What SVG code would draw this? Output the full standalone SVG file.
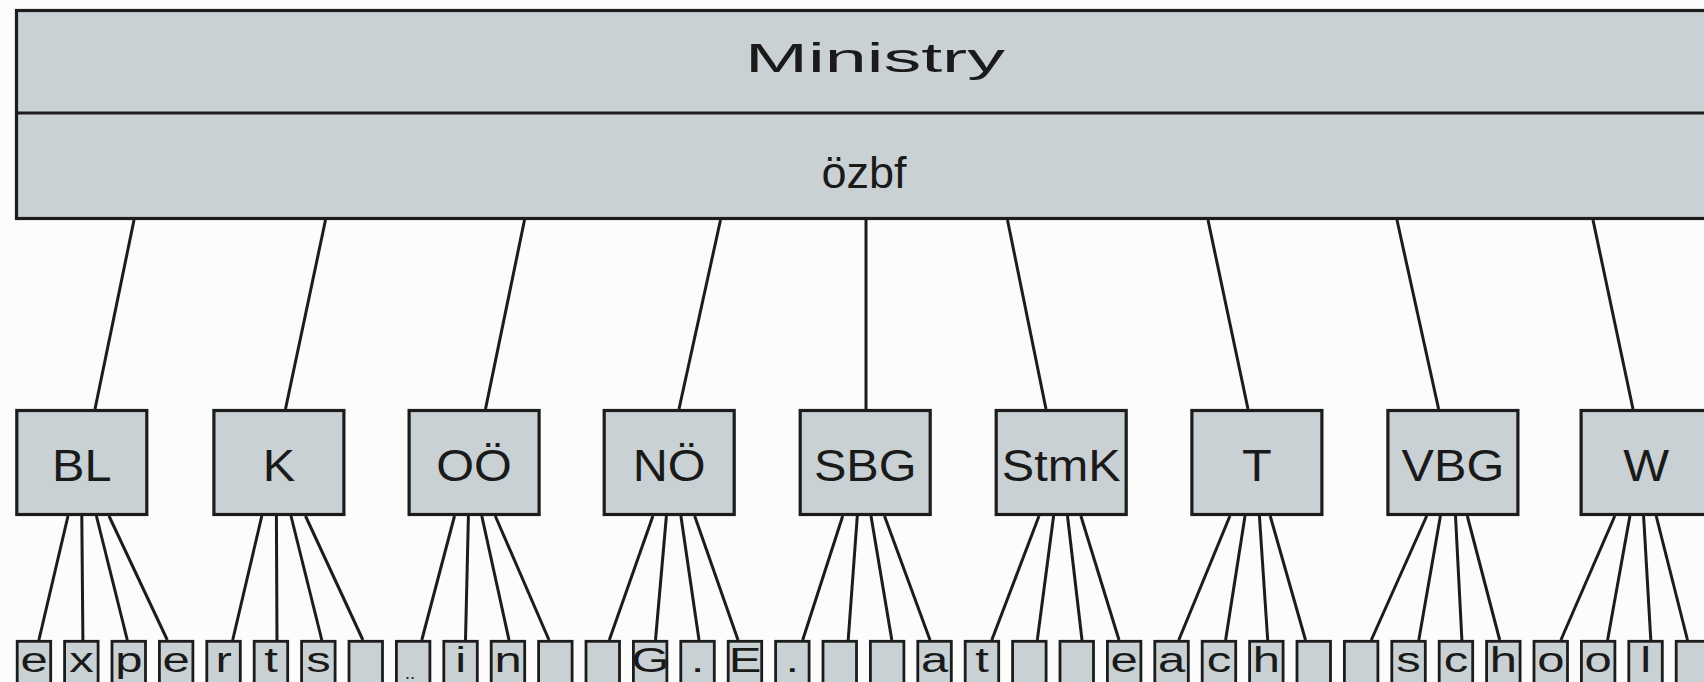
<svg xmlns="http://www.w3.org/2000/svg" width="1704" height="682" viewBox="0 0 1704 682">
<style>
.box{fill:#c9d1d4;stroke:#1c1c1c;stroke-width:3.2}
.sb{fill:#c9d1d4;stroke:#1c1c1c;stroke-width:2.8}
.ln{stroke:#1c1c1c;stroke-width:3;fill:none}
.t{font-family:"Liberation Sans",Arial,sans-serif;fill:#1a1a1a;text-anchor:middle}
.mid{font-size:45px}
.sm{font-size:35px}
</style>
<rect x="0" y="0" width="1704" height="682" fill="#fcfcfc"/>
<g id="top">
<rect class="box" x="16.5" y="10.5" width="1710" height="208"/>
<line class="ln" x1="15" y1="113" x2="1720" y2="113" style="stroke-width:3.2"/>
<text class="t" x="745" y="72" font-size="41" textLength="260" lengthAdjust="spacingAndGlyphs" style="text-anchor:start">Ministry</text>
<text class="t" x="864" y="188" font-size="45">özbf</text>
</g>
<g id="connectors">
<line class="ln" x1="134" y1="220" x2="95" y2="409"/>
<line class="ln" x1="325.5" y1="220" x2="285.5" y2="409"/>
<line class="ln" x1="524.5" y1="220" x2="485.5" y2="409"/>
<line class="ln" x1="720.5" y1="220" x2="679" y2="409"/>
<line class="ln" x1="866" y1="220" x2="866" y2="409"/>
<line class="ln" x1="1007.5" y1="220" x2="1046" y2="409"/>
<line class="ln" x1="1208" y1="220" x2="1248" y2="409"/>
<line class="ln" x1="1397" y1="220" x2="1438.6" y2="409"/>
<line class="ln" x1="1593" y1="220" x2="1633" y2="409"/>
<line class="ln" x1="68" y1="516" x2="38.9" y2="640"/>
<line class="ln" x1="81.8" y1="516" x2="82.9" y2="640"/>
<line class="ln" x1="96.4" y1="516" x2="127.3" y2="640"/>
<line class="ln" x1="109" y1="516" x2="167.3" y2="640"/>
<line class="ln" x1="261.8" y1="516" x2="232.7" y2="640"/>
<line class="ln" x1="276.4" y1="516" x2="277" y2="640"/>
<line class="ln" x1="291" y1="516" x2="321.8" y2="640"/>
<line class="ln" x1="305.5" y1="516" x2="362.9" y2="640"/>
<line class="ln" x1="454.5" y1="516" x2="421.8" y2="640"/>
<line class="ln" x1="468.4" y1="516" x2="465.5" y2="640"/>
<line class="ln" x1="481.8" y1="516" x2="509" y2="640"/>
<line class="ln" x1="495.3" y1="516" x2="549" y2="640"/>
<line class="ln" x1="652.9" y1="516" x2="609.3" y2="640"/>
<line class="ln" x1="666.4" y1="516" x2="655.5" y2="640"/>
<line class="ln" x1="680.9" y1="516" x2="699" y2="640"/>
<line class="ln" x1="694.7" y1="516" x2="738" y2="640"/>
<line class="ln" x1="842.7" y1="516" x2="802.7" y2="640"/>
<line class="ln" x1="857.3" y1="516" x2="848.2" y2="640"/>
<line class="ln" x1="871" y1="516" x2="891.8" y2="640"/>
<line class="ln" x1="884.5" y1="516" x2="930" y2="640"/>
<line class="ln" x1="1039" y1="516" x2="991.8" y2="640"/>
<line class="ln" x1="1053.6" y1="516" x2="1037.3" y2="640"/>
<line class="ln" x1="1067.5" y1="516" x2="1082" y2="640"/>
<line class="ln" x1="1080.9" y1="516" x2="1119" y2="640"/>
<line class="ln" x1="1229.9" y1="516" x2="1178.8" y2="640"/>
<line class="ln" x1="1245" y1="516" x2="1225.6" y2="640"/>
<line class="ln" x1="1259.4" y1="516" x2="1267.7" y2="640"/>
<line class="ln" x1="1270.2" y1="516" x2="1305.5" y2="640"/>
<line class="ln" x1="1426.7" y1="516" x2="1371.3" y2="640"/>
<line class="ln" x1="1440.4" y1="516" x2="1418.8" y2="640"/>
<line class="ln" x1="1455.5" y1="516" x2="1461.9" y2="640"/>
<line class="ln" x1="1467.3" y1="516" x2="1499.7" y2="640"/>
<line class="ln" x1="1614.8" y1="516" x2="1560.9" y2="640"/>
<line class="ln" x1="1629.9" y1="516" x2="1607.6" y2="640"/>
<line class="ln" x1="1643.6" y1="516" x2="1650.8" y2="640"/>
<line class="ln" x1="1656.2" y1="516" x2="1687.5" y2="640"/>
</g>
<g id="BL"><rect class="box" x="16.8" y="410.5" width="130" height="104"/><text class="t mid" transform="translate(81.8,481) scale(1.08,1)">BL</text></g>
<g id="K"><rect class="box" x="213.9" y="410.5" width="130" height="104"/><text class="t mid" transform="translate(278.9,481) scale(1.08,1)">K</text></g>
<g id="OOe"><rect class="box" x="409.1" y="410.5" width="130" height="104"/><text class="t mid" transform="translate(474.1,481) scale(1.08,1)">OÖ</text></g>
<g id="NOe"><rect class="box" x="604.2" y="410.5" width="130" height="104"/><text class="t mid" transform="translate(669.2,481) scale(1.08,1)">NÖ</text></g>
<g id="SBG"><rect class="box" x="800.2" y="410.5" width="130" height="104"/><text class="t mid" transform="translate(865.2,481) scale(1.08,1)">SBG</text></g>
<g id="StmK"><rect class="box" x="996.2" y="410.5" width="130" height="104"/><text class="t mid" transform="translate(1061.2,481) scale(1.08,1)">StmK</text></g>
<g id="T"><rect class="box" x="1191.9" y="410.5" width="130" height="104"/><text class="t mid" transform="translate(1256.9,481) scale(1.08,1)">T</text></g>
<g id="VBG"><rect class="box" x="1387.9" y="410.5" width="130" height="104"/><text class="t mid" transform="translate(1452.9,481) scale(1.08,1)">VBG</text></g>
<g id="W"><rect class="box" x="1581.1" y="410.5" width="130" height="104"/><text class="t mid" transform="translate(1646.1,481) scale(1.08,1)">W</text></g>
<g id="letters">
<g id="s0"><rect class="sb" x="17.2" y="641.3" width="33.5" height="50"/><text class="t sm" transform="translate(34,672) scale(1.4,1)">e</text></g>
<g id="s1"><rect class="sb" x="64.6" y="641.3" width="33.5" height="50"/><text class="t sm" transform="translate(81.4,672) scale(1.4,1)">x</text></g>
<g id="s2"><rect class="sb" x="112" y="641.3" width="33.5" height="50"/><text class="t sm" transform="translate(128.8,672) scale(1.4,1)">p</text></g>
<g id="s3"><rect class="sb" x="159.4" y="641.3" width="33.5" height="50"/><text class="t sm" transform="translate(176.2,672) scale(1.4,1)">e</text></g>
<g id="s4"><rect class="sb" x="206.8" y="641.3" width="33.5" height="50"/><text class="t sm" transform="translate(223.6,672) scale(1.4,1)">r</text></g>
<g id="s5"><rect class="sb" x="254.2" y="641.3" width="33.5" height="50"/><text class="t sm" transform="translate(271,672) scale(1.4,1)">t</text></g>
<g id="s6"><rect class="sb" x="301.6" y="641.3" width="33.5" height="50"/><text class="t sm" transform="translate(318.4,672) scale(1.4,1)">s</text></g>
<g id="s7"><rect class="sb" x="349" y="641.3" width="33.5" height="50"/></g>
<g id="s8"><rect class="sb" x="396.4" y="641.3" width="33.5" height="50"/><text class="t" font-size="18" x="410" y="679">..</text></g>
<g id="s9"><rect class="sb" x="443.8" y="641.3" width="33.5" height="50"/><text class="t sm" transform="translate(460.6,672) scale(1.4,1)">i</text></g>
<g id="s10"><rect class="sb" x="491.2" y="641.3" width="33.5" height="50"/><text class="t sm" transform="translate(508,672) scale(1.4,1)">n</text></g>
<g id="s11"><rect class="sb" x="538.6" y="641.3" width="33.5" height="50"/></g>
<g id="s12"><rect class="sb" x="586" y="641.3" width="33.5" height="50"/></g>
<g id="s13"><rect class="sb" x="633.4" y="641.3" width="33.5" height="50"/><text class="t sm" transform="translate(650.2,672) scale(1.4,1)">G</text></g>
<g id="s14"><rect class="sb" x="680.8" y="641.3" width="33.5" height="50"/><text class="t sm" transform="translate(697.6,672) scale(1.4,1)">.</text></g>
<g id="s15"><rect class="sb" x="728.2" y="641.3" width="33.5" height="50"/><text class="t sm" transform="translate(745,672) scale(1.4,1)">E</text></g>
<g id="s16"><rect class="sb" x="775.6" y="641.3" width="33.5" height="50"/><text class="t sm" transform="translate(792.4,672) scale(1.4,1)">.</text></g>
<g id="s17"><rect class="sb" x="823" y="641.3" width="33.5" height="50"/></g>
<g id="s18"><rect class="sb" x="870.4" y="641.3" width="33.5" height="50"/></g>
<g id="s19"><rect class="sb" x="917.8" y="641.3" width="33.5" height="50"/><text class="t sm" transform="translate(934.6,672) scale(1.4,1)">a</text></g>
<g id="s20"><rect class="sb" x="965.2" y="641.3" width="33.5" height="50"/><text class="t sm" transform="translate(982,672) scale(1.4,1)">t</text></g>
<g id="s21"><rect class="sb" x="1012.6" y="641.3" width="33.5" height="50"/></g>
<g id="s22"><rect class="sb" x="1060" y="641.3" width="33.5" height="50"/></g>
<g id="s23"><rect class="sb" x="1107.4" y="641.3" width="33.5" height="50"/><text class="t sm" transform="translate(1124.2,672) scale(1.4,1)">e</text></g>
<g id="s24"><rect class="sb" x="1154.8" y="641.3" width="33.5" height="50"/><text class="t sm" transform="translate(1171.6,672) scale(1.4,1)">a</text></g>
<g id="s25"><rect class="sb" x="1202.2" y="641.3" width="33.5" height="50"/><text class="t sm" transform="translate(1219,672) scale(1.4,1)">c</text></g>
<g id="s26"><rect class="sb" x="1249.6" y="641.3" width="33.5" height="50"/><text class="t sm" transform="translate(1266.4,672) scale(1.4,1)">h</text></g>
<g id="s27"><rect class="sb" x="1297" y="641.3" width="33.5" height="50"/></g>
<g id="s28"><rect class="sb" x="1344.4" y="641.3" width="33.5" height="50"/></g>
<g id="s29"><rect class="sb" x="1391.8" y="641.3" width="33.5" height="50"/><text class="t sm" transform="translate(1408.6,672) scale(1.4,1)">s</text></g>
<g id="s30"><rect class="sb" x="1439.2" y="641.3" width="33.5" height="50"/><text class="t sm" transform="translate(1456,672) scale(1.4,1)">c</text></g>
<g id="s31"><rect class="sb" x="1486.6" y="641.3" width="33.5" height="50"/><text class="t sm" transform="translate(1503.4,672) scale(1.4,1)">h</text></g>
<g id="s32"><rect class="sb" x="1534" y="641.3" width="33.5" height="50"/><text class="t sm" transform="translate(1550.8,672) scale(1.4,1)">o</text></g>
<g id="s33"><rect class="sb" x="1581.4" y="641.3" width="33.5" height="50"/><text class="t sm" transform="translate(1598.2,672) scale(1.4,1)">o</text></g>
<g id="s34"><rect class="sb" x="1628.8" y="641.3" width="33.5" height="50"/><text class="t sm" transform="translate(1645.6,672) scale(1.4,1)">l</text></g>
<g id="s35"><rect class="sb" x="1676.2" y="641.3" width="33.5" height="50"/></g>
</g>
</svg>
